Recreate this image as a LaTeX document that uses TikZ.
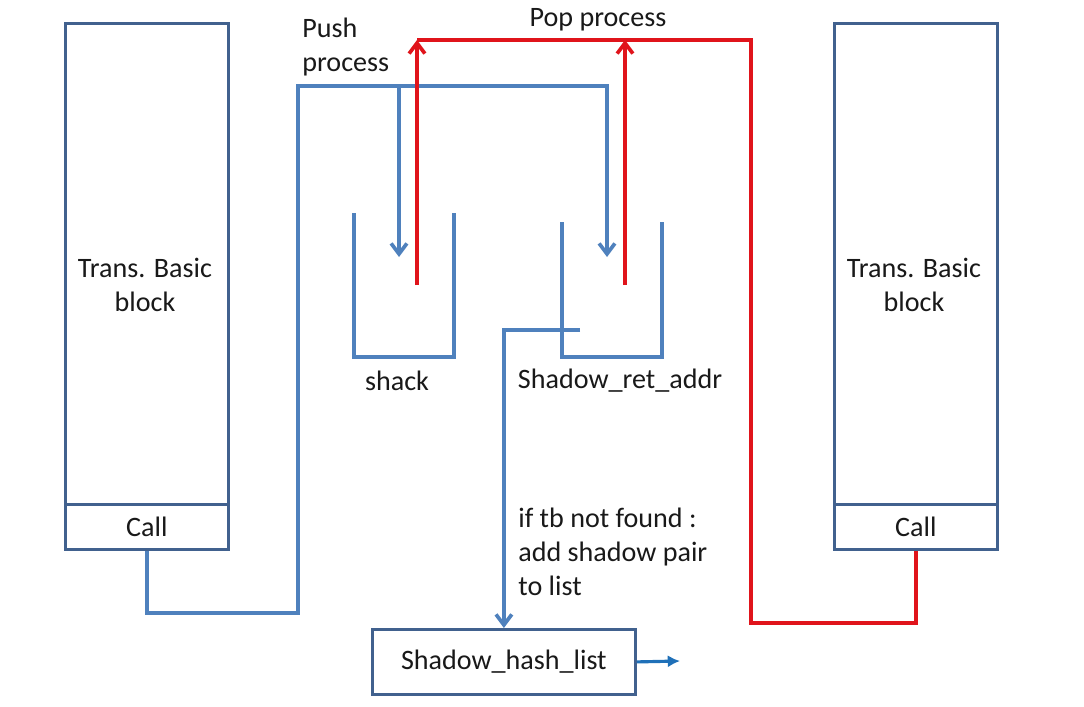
\documentclass[tikz,border=0pt]{standalone}
\usepackage{fontspec}
\setmainfont{Carlito}
\usetikzlibrary{arrows.meta}
\definecolor{lblue}{HTML}{4F81BD}
\definecolor{bblue}{HTML}{41618E}
\definecolor{lred}{HTML}{E0141B}
\definecolor{dblue}{HTML}{1F70B8}
\begin{document}
\begin{tikzpicture}[x=0.02cm,y=-0.02cm,
  txt/.style={font=\fontsize{16}{19.5}\selectfont,text=black!90,inner sep=0pt},
  box/.style={draw=bblue,line width=1.6pt,fill=white,inner sep=0pt,anchor=north west},
  stackline/.style={draw=lblue,line width=2.1pt},
  pushline/.style={draw=lblue,line width=2.1pt},
  popline/.style={draw=lred,line width=2.1pt},
  barb/.style={-{Straight Barb[length=6pt,width=9pt]}},
]
\useasboundingbox (0,0) rectangle (1084,706);
% left basic block
\node[box,minimum width=3.26cm,minimum height=9.62cm] (lb) at (64,22) {};
\node[box,minimum width=3.26cm,minimum height=0.9cm] (lcall) at (64,503) {};
\node[txt,align=center] (lbt) at (145,285) {Trans. Basic\\block};
\node[txt] (lct) at (lcall.center) {Call};
% right basic block
\node[box,minimum width=3.26cm,minimum height=9.62cm] (rb) at (833,22) {};
\node[box,minimum width=3.26cm,minimum height=0.9cm] (rcall) at (833,503) {};
\node[txt,align=center] (rbt) at (914,285) {Trans. Basic\\block};
\node[txt] (rct) at (rcall.center) {Call};
% stacks
\coordinate (shTL) at (354,213);
\coordinate (shBL) at (354,357);
\coordinate (shBR) at (454,357);
\coordinate (shTR) at (454,213);
\draw[stackline] (shTL) -- (shBL) -- (shBR) -- (shTR);
\node[txt] (shl) at (397,381) {shack};
\coordinate (srTL) at (562,222);
\coordinate (srBL) at (562,357);
\coordinate (srBR) at (662,357);
\coordinate (srTR) at (662,222);
\draw[stackline] (srTL) -- (srBL) -- (srBR) -- (srTR);
\node[txt] (srl) at (620,381) {Shadow\_ret\_addr};
% hash list
\node[box,minimum width=5.26cm,minimum height=1.3cm] (hash) at (371,628) {};
\node[txt] (hasht) at (hash.center) {Shadow\_hash\_list};
% push process
\coordinate (pushL) at (298,86);
\coordinate (pushB) at (399,86);
\coordinate (shIn) at (399,257);
\coordinate (srIn) at (607,257);
\draw[pushline,barb] (lcall.south) -- ++(0,62) -| (pushL) -| (srIn);
\draw[pushline,barb] (pushB) -- (shIn);
\node[txt,align=left,anchor=west] (pusht) at (302,47) {Push\\process};
% pop process
\coordinate (shOut) at (417,285);
\coordinate (srOut) at (625,285);
\coordinate (popL) at (417,40);
\coordinate (popM) at (625,40);
\coordinate (popR) at (751,40);
\draw[popline] (rcall.south) -- ++(0,72) -| (popR) -- (popL);
\draw[popline,barb] (shOut) -- (popL);
\draw[popline,barb] (srOut) -- (popM);
\node[txt] (popt) at (598,20) {Pop process};
% shadow pair
\coordinate (pairStart) at (580,330);
\draw[pushline,barb] (pairStart) -| (hash.north);
\node[txt,align=left,anchor=west] (ift) at (518,552) {if tb not found :\\add shadow pair\\to list};
% output
\coordinate (hashOut) at (680,661);
\draw[draw=dblue,line width=1.8pt,-{Latex[length=7pt,width=7pt]}] (hash.east) -- (hashOut);
\end{tikzpicture}
\end{document}
